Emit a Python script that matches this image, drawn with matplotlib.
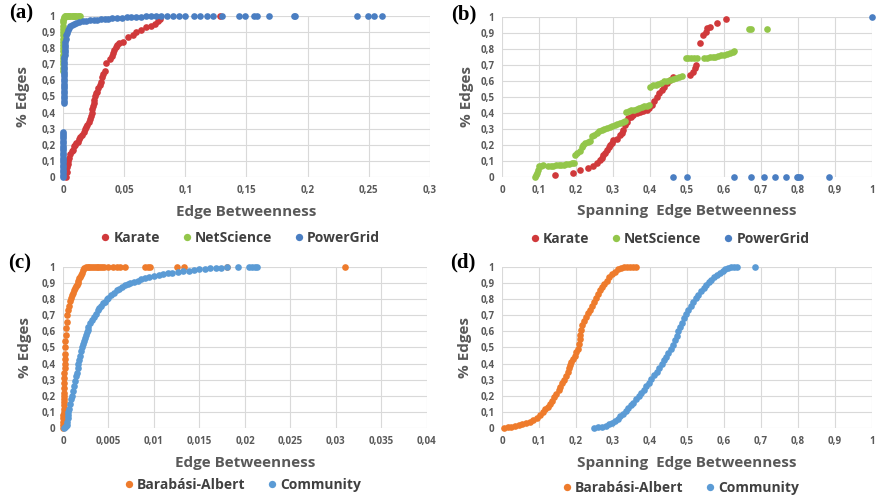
import numpy as np
import matplotlib
matplotlib.use('Agg')
import matplotlib.pyplot as plt

plt.rcParams['font.family'] = ['Open Sans', 'DejaVu Sans']

# (edge betweenness, fraction of edges) pairs for every network
karate_eb = [
    (0.0025, 0.0), (0.003, 0.03), (0.0035, 0.06), (0.004, 0.08), (0.0045, 0.10), (0.005, 0.12),
    (0.006, 0.14), (0.007, 0.16), (0.008, 0.17), (0.009, 0.19), (0.010, 0.20), (0.011, 0.21),
    (0.012, 0.22), (0.013, 0.235), (0.014, 0.25), (0.0155, 0.26), (0.017, 0.28), (0.018, 0.30),
    (0.019, 0.31), (0.020, 0.32), (0.021, 0.34), (0.022, 0.36), (0.0228, 0.38), (0.0235, 0.40),
    (0.024, 0.42), (0.0245, 0.44), (0.025, 0.46), (0.0255, 0.48), (0.026, 0.50), (0.027, 0.52),
    (0.028, 0.53), (0.029, 0.55), (0.030, 0.57), (0.031, 0.59), (0.032, 0.62), (0.033, 0.64),
    (0.034, 0.66), (0.0355, 0.71), (0.0385, 0.73), (0.040, 0.75), (0.041, 0.77), (0.042, 0.79),
    (0.043, 0.81), (0.0445, 0.82), (0.046, 0.83), (0.049, 0.84), (0.053, 0.87), (0.057, 0.88),
    (0.060, 0.90), (0.064, 0.91), (0.068, 0.93), (0.072, 0.94), (0.075, 0.95), (0.078, 0.97),
    (0.0795, 0.98), (0.128, 1.0)]

netscience_eb = [
    (0.0, 0.66), (0.0, 0.68), (0.0, 0.70), (0.0, 0.72), (0.0, 0.74), (0.0, 0.76), (0.0, 0.78),
    (0.0, 0.80), (0.0, 0.82), (0.0, 0.84), (0.0, 0.86), (0.0, 0.88), (0.0, 0.90), (0.0, 0.92),
    (0.0, 0.94), (0.0, 0.96), (0.0003, 0.975), (0.0006, 0.985), (0.001, 0.993), (0.0015, 0.998),
    (0.002, 1.0), (0.003, 1.0), (0.004, 1.0), (0.005, 1.0), (0.006, 1.0), (0.007, 1.0),
    (0.008, 1.0), (0.009, 1.0), (0.010, 1.0), (0.011, 1.0), (0.012, 1.0), (0.013, 1.0), (0.014, 1.0)]

powergrid_eb = [
    (0.0003, 0.0), (0.0003, 0.015), (0.0003, 0.03), (0.0003, 0.045), (0.0003, 0.06), (0.0003, 0.075),
    (0.0003, 0.09), (0.0003, 0.105), (0.0003, 0.12), (0.0003, 0.135), (0.0003, 0.15), (0.0003, 0.165),
    (0.0003, 0.18), (0.0003, 0.195), (0.0003, 0.21), (0.0003, 0.225), (0.0003, 0.24), (0.0003, 0.255),
    (0.0003, 0.27), (0.0003, 0.28),
    (0.0010, 0.46), (0.0010, 0.475), (0.0010, 0.49), (0.0010, 0.505), (0.0010, 0.52), (0.0010, 0.535),
    (0.0010, 0.55), (0.0010, 0.565), (0.0011, 0.58), (0.0011, 0.595), (0.0011, 0.61), (0.0011, 0.625),
    (0.0011, 0.64), (0.0011, 0.655), (0.0011, 0.67), (0.0012, 0.685), (0.0012, 0.70), (0.0012, 0.715),
    (0.0012, 0.73), (0.0012, 0.745), (0.0013, 0.76), (0.0013, 0.775), (0.0013, 0.79), (0.0014, 0.805),
    (0.0016, 0.82), (0.0019, 0.84), (0.0022, 0.86), (0.0026, 0.88), (0.0031, 0.895), (0.0038, 0.91),
    (0.0048, 0.925), (0.006, 0.935), (0.0075, 0.945), (0.009, 0.952), (0.011, 0.958), (0.013, 0.963),
    (0.016, 0.968), (0.019, 0.971), (0.022, 0.974), (0.025, 0.976), (0.028, 0.978), (0.031, 0.98),
    (0.034, 0.982), (0.037, 0.984), (0.040, 0.986), (0.044, 0.988), (0.048, 0.99), (0.052, 0.992),
    (0.056, 0.994), (0.060, 0.995), (0.064, 0.996), (0.068, 0.997), (0.072, 0.998), (0.076, 0.998),
    (0.080, 0.999), (0.085, 0.999), (0.090, 1.0), (0.095, 1.0), (0.100, 1.0), (0.107, 1.0),
    (0.112, 1.0), (0.1175, 1.0), (0.123, 1.0), (0.130, 1.0), (0.1435, 1.0), (0.149, 1.0),
    (0.156, 1.0), (0.159, 1.0), (0.168, 1.0), (0.1885, 1.0), (0.190, 1.0), (0.240, 1.0),
    (0.249, 1.0), (0.254, 1.0), (0.261, 1.0)]

# spanning edge betweenness
karate_seb = [
    (0.143, 0.0125), (0.193, 0.023), (0.211, 0.044), (0.233, 0.054), (0.247, 0.069), (0.258, 0.085),
    (0.265, 0.106), (0.270, 0.12), (0.274, 0.1375), (0.279, 0.153), (0.283, 0.169), (0.288, 0.185),
    (0.292, 0.20), (0.297, 0.215), (0.301, 0.231), (0.310, 0.24), (0.319, 0.2625), (0.324, 0.278),
    (0.328, 0.294), (0.332, 0.325), (0.337, 0.346), (0.341, 0.367), (0.348, 0.378), (0.355, 0.3875),
    (0.364, 0.398), (0.373, 0.408), (0.382, 0.414), (0.391, 0.419), (0.398, 0.434), (0.405, 0.45),
    (0.411, 0.476), (0.418, 0.502), (0.425, 0.523), (0.432, 0.544), (0.438, 0.565), (0.445, 0.585),
    (0.454, 0.606), (0.463, 0.627), (0.508, 0.6375), (0.517, 0.658), (0.521, 0.679), (0.525, 0.70),
    (0.535, 0.835), (0.544, 0.8875), (0.551, 0.908), (0.555, 0.929), (0.562, 0.94), (0.582, 0.964),
    (0.605, 0.99)]

netscience_seb = [
    (0.088, 0.0), (0.091, 0.012), (0.094, 0.024), (0.097, 0.045), (0.101, 0.066), (0.106, 0.07),
    (0.112, 0.072), (0.125, 0.07), (0.132, 0.07), (0.139, 0.071), (0.146, 0.072), (0.153, 0.073),
    (0.160, 0.075), (0.167, 0.077), (0.174, 0.079), (0.181, 0.082), (0.188, 0.085), (0.195, 0.088),
    (0.198, 0.14), (0.204, 0.15), (0.210, 0.162), (0.215, 0.185), (0.219, 0.20), (0.225, 0.21),
    (0.232, 0.218), (0.238, 0.222), (0.243, 0.255), (0.249, 0.265), (0.256, 0.278), (0.263, 0.285),
    (0.270, 0.293), (0.277, 0.30), (0.284, 0.307), (0.291, 0.314), (0.298, 0.32), (0.305, 0.326),
    (0.312, 0.332), (0.319, 0.338), (0.326, 0.345), (0.333, 0.352), (0.336, 0.405), (0.343, 0.41),
    (0.350, 0.416), (0.357, 0.421), (0.364, 0.426), (0.371, 0.431), (0.378, 0.436), (0.385, 0.441),
    (0.392, 0.446), (0.398, 0.452), (0.401, 0.565), (0.408, 0.572), (0.415, 0.578), (0.422, 0.584),
    (0.430, 0.59), (0.438, 0.597), (0.446, 0.603), (0.454, 0.609), (0.462, 0.615), (0.470, 0.621),
    (0.478, 0.627), (0.486, 0.633), (0.496, 0.742), (0.503, 0.744), (0.511, 0.745), (0.519, 0.745),
    (0.527, 0.745), (0.545, 0.745), (0.553, 0.746), (0.561, 0.748), (0.569, 0.75), (0.577, 0.753),
    (0.585, 0.757), (0.593, 0.761), (0.601, 0.765), (0.609, 0.769), (0.617, 0.774), (0.623, 0.78),
    (0.628, 0.787), (0.667, 0.923), (0.673, 0.923), (0.715, 0.928)]

powergrid_seb = [
    (0.461, 0.0), (0.501, 0.0), (0.628, 0.0), (0.674, 0.0), (0.709, 0.0), (0.739, 0.0),
    (0.767, 0.0), (0.796, 0.0), (0.801, 0.0), (0.806, 0.0), (0.884, 0.0), (1.0, 1.0)]

# synthetic networks
ba_eb = [
    (0.0, 0.0), (0.00002, 0.02), (0.00003, 0.04), (0.00004, 0.06), (0.00005, 0.08), (0.00006, 0.10),
    (0.00007, 0.12), (0.00008, 0.14), (0.00009, 0.16), (0.0001, 0.18), (0.00011, 0.20), (0.00012, 0.22),
    (0.00013, 0.25), (0.00014, 0.28), (0.00015, 0.31), (0.00016, 0.34), (0.00017, 0.37), (0.00018, 0.40),
    (0.0002, 0.43), (0.00021, 0.46), (0.00023, 0.50), (0.00026, 0.54), (0.0003, 0.58), (0.00034, 0.62),
    (0.0004, 0.66), (0.00047, 0.70), (0.00055, 0.73), (0.00065, 0.76), (0.00077, 0.79), (0.0009, 0.81),
    (0.001, 0.825), (0.0011, 0.84), (0.0012, 0.855), (0.0013, 0.87), (0.0014, 0.88), (0.0015, 0.89),
    (0.0016, 0.90), (0.0017, 0.915), (0.0018, 0.93), (0.0019, 0.94), (0.002, 0.95), (0.0021, 0.965),
    (0.0022, 0.98), (0.0023, 0.995), (0.0025, 1.0), (0.0027, 1.0), (0.0029, 1.0), (0.0031, 1.0),
    (0.0033, 1.0), (0.0035, 1.0), (0.0037, 1.0), (0.0039, 1.0), (0.0041, 1.0), (0.0043, 1.0),
    (0.0045, 1.0), (0.005, 1.0), (0.0055, 1.0), (0.0059, 1.0), (0.0063, 1.0), (0.0068, 1.0),
    (0.0090, 1.0), (0.0094, 1.0), (0.0096, 1.0), (0.0125, 1.0), (0.0133, 1.0), (0.018, 1.0),
    (0.031, 1.0)]

community_eb = [
    (0.0001, 0.0), (0.0002, 0.005), (0.0003, 0.01), (0.0004, 0.02), (0.00045, 0.04), (0.0005, 0.06),
    (0.00055, 0.08), (0.0006, 0.10), (0.0007, 0.12), (0.0008, 0.15), (0.0009, 0.18), (0.001, 0.20),
    (0.0011, 0.23), (0.0012, 0.26), (0.0013, 0.29), (0.0014, 0.32), (0.0015, 0.34), (0.0016, 0.37),
    (0.0017, 0.40), (0.0018, 0.42), (0.0019, 0.45), (0.002, 0.48), (0.0021, 0.50), (0.0022, 0.52),
    (0.0023, 0.54), (0.0024, 0.56), (0.0025, 0.58), (0.0026, 0.595), (0.0027, 0.61), (0.0028, 0.625),
    (0.003, 0.65), (0.0032, 0.67), (0.0034, 0.69), (0.0036, 0.71), (0.0038, 0.73), (0.004, 0.745),
    (0.0042, 0.76), (0.0044, 0.775), (0.0046, 0.785), (0.0048, 0.80), (0.005, 0.81), (0.0053, 0.825),
    (0.0056, 0.84), (0.0059, 0.855), (0.0062, 0.865), (0.0065, 0.875), (0.0068, 0.885), (0.0071, 0.893),
    (0.0074, 0.90), (0.0078, 0.908), (0.0082, 0.916), (0.0086, 0.923), (0.009, 0.93), (0.0095, 0.937),
    (0.01, 0.944), (0.0105, 0.95), (0.011, 0.955), (0.0115, 0.96), (0.012, 0.965), (0.0126, 0.969),
    (0.0132, 0.973), (0.0138, 0.977), (0.0144, 0.981), (0.015, 0.985), (0.0156, 0.988), (0.0162, 0.991),
    (0.0168, 0.994), (0.0174, 0.996), (0.018, 0.998), (0.0192, 1.0), (0.0204, 1.0), (0.0208, 1.0),
    (0.0211, 1.0), (0.0213, 1.0)]

ba_seb = [
    (0.005, 0.0), (0.015, 0.004), (0.025, 0.008), (0.035, 0.013), (0.045, 0.018), (0.055, 0.025),
    (0.065, 0.032), (0.075, 0.04), (0.085, 0.05), (0.095, 0.065), (0.103, 0.08), (0.110, 0.097),
    (0.117, 0.115), (0.123, 0.132), (0.129, 0.15), (0.135, 0.17), (0.141, 0.19), (0.147, 0.21),
    (0.153, 0.235), (0.158, 0.255), (0.163, 0.28), (0.168, 0.30), (0.173, 0.32), (0.178, 0.345),
    (0.181, 0.37), (0.184, 0.39), (0.187, 0.41), (0.191, 0.43), (0.196, 0.45), (0.201, 0.47),
    (0.205, 0.49), (0.208, 0.52), (0.210, 0.55), (0.212, 0.58), (0.214, 0.61), (0.217, 0.64),
    (0.221, 0.665), (0.226, 0.69), (0.232, 0.715), (0.238, 0.735), (0.243, 0.76), (0.248, 0.785),
    (0.253, 0.81), (0.259, 0.835), (0.265, 0.855), (0.271, 0.875), (0.277, 0.895), (0.283, 0.915),
    (0.290, 0.935), (0.297, 0.955), (0.305, 0.97), (0.313, 0.985), (0.321, 0.995), (0.330, 1.0),
    (0.338, 1.0), (0.346, 1.0), (0.354, 1.0), (0.362, 1.0)]

community_seb = [
    (0.250, 0.0), (0.260, 0.003), (0.270, 0.007), (0.280, 0.013), (0.290, 0.022), (0.298, 0.032),
    (0.306, 0.045), (0.313, 0.058), (0.320, 0.072), (0.327, 0.088), (0.334, 0.105), (0.341, 0.122),
    (0.348, 0.14), (0.355, 0.158), (0.362, 0.177), (0.369, 0.196), (0.376, 0.215), (0.383, 0.236),
    (0.390, 0.258), (0.397, 0.28), (0.404, 0.303), (0.411, 0.326), (0.418, 0.35), (0.425, 0.374),
    (0.432, 0.398), (0.438, 0.42), (0.444, 0.443), (0.450, 0.467), (0.456, 0.492), (0.462, 0.518),
    (0.467, 0.545), (0.472, 0.572), (0.477, 0.60), (0.482, 0.628), (0.487, 0.655), (0.492, 0.682),
    (0.498, 0.708), (0.504, 0.733), (0.510, 0.757), (0.517, 0.782), (0.524, 0.806), (0.531, 0.828),
    (0.538, 0.849), (0.545, 0.869), (0.552, 0.888), (0.559, 0.906), (0.566, 0.922), (0.573, 0.937),
    (0.580, 0.951), (0.588, 0.964), (0.596, 0.975), (0.604, 0.985), (0.612, 0.992), (0.620, 0.997),
    (0.628, 1.0), (0.636, 1.0), (0.684, 1.0)]

yticks = [0, 0.1, 0.2, 0.3, 0.4, 0.5, 0.6, 0.7, 0.8, 0.9, 1]
yticklabels = ['0', '0,1', '0,2', '0,3', '0,4', '0,5', '0,6', '0,7', '0,8', '0,9', '1']
xticks_eb_real = [0, 0.05, 0.1, 0.15, 0.2, 0.25, 0.3]
xlabels_eb_real = ['0', '0,05', '0,1', '0,15', '0,2', '0,25', '0,3']
xticks_seb = [0, 0.1, 0.2, 0.3, 0.4, 0.5, 0.6, 0.7, 0.8, 0.9, 1]
xlabels_seb = ['0', '0,1', '0,2', '0,3', '0,4', '0,5', '0,6', '0,7', '0,8', '0,9', '1']
xticks_eb_synth = [0, 0.005, 0.01, 0.015, 0.02, 0.025, 0.03, 0.035, 0.04]
xlabels_eb_synth = ['0', '0,005', '0,01', '0,015', '0,02', '0,025', '0,03', '0,035', '0,04']

RED = '#D0393B'
GREEN = '#93C64A'
BLUE = '#4A7EC2'
ORANGE = '#EE7B2C'
LBLUE = '#5B9BD5'
GRID = '#D9D9D9'
TXT = '#595959'

fig = plt.figure(figsize=(8.77, 4.98), dpi=100)


def draw_panel(rect, series, xticks, xlabels, xlabel, tag, tagpos, leg_x, leg_y, ylab_x):
    ax = fig.add_axes(rect)
    for data, color, name in series:
        pts = np.array(data)
        ax.plot(pts[:, 0], pts[:, 1], 'o', ms=4.8, mew=0, color=color,
                clip_on=False, label=name, zorder=3)
    ax.set_xlim(xticks[0], xticks[-1])
    ax.set_ylim(0, 1)
    ax.set_xticks(xticks)
    ax.set_xticklabels(xlabels)
    ax.set_yticks(yticks)
    ax.set_yticklabels(yticklabels)
    ax.tick_params(length=0, labelsize=7, labelcolor=TXT, pad=5.5)
    for lab in ax.get_xticklabels() + ax.get_yticklabels():
        lab.set_fontweight('bold')
    for s in ax.spines.values():
        s.set_visible(False)
    ax.grid(True, color=GRID, lw=0.8, zorder=0)
    ax.set_axisbelow(True)

    ax.set_xlabel(xlabel, fontsize=11, fontweight='bold', color=TXT)
    ax.xaxis.set_label_coords(0.5, -0.215)
    ax.xaxis.label.set_va('center')
    ax.set_ylabel('% Edges', fontsize=11, fontweight='bold', color=TXT)
    ax.yaxis.set_label_coords(ylab_x, 0.5)
    ax.yaxis.label.set_va('center')

    leg = ax.legend(loc='center', bbox_to_anchor=(leg_x, leg_y), ncol=len(series),
                    frameon=False, handletextpad=0.1, columnspacing=1.4,
                    markerscale=1.1, handlelength=1.0,
                    prop={'size': 10, 'weight': 'bold'})
    for t in leg.get_texts():
        t.set_color('#404040')

    fig.text(tagpos[0], tagpos[1], tag, fontsize=15, fontweight='bold',
             family='Liberation Serif', ha='center', va='center')
    return ax


draw_panel([0.0718, 0.6446, 0.4185, 0.3233],
           [(karate_eb, RED, 'Karate'), (netscience_eb, GREEN, 'NetScience'),
            (powergrid_eb, BLUE, 'PowerGrid')],
           xticks_eb_real, xlabels_eb_real, 'Edge Betweenness',
           '(a)', (0.024, 0.972), 0.48, -0.38, -0.11)

draw_panel([0.5724, 0.6446, 0.4219, 0.3213],
           [(karate_seb, RED, 'Karate'), (netscience_seb, GREEN, 'NetScience'),
            (powergrid_seb, BLUE, 'PowerGrid')],
           xticks_seb, xlabels_seb, 'Spanning  Edge Betweenness',
           '(b)', (0.529, 0.970), 0.45, -0.385, -0.095)

draw_panel([0.0718, 0.1406, 0.4150, 0.3233],
           [(ba_eb, ORANGE, 'Barabási-Albert'), (community_eb, LBLUE, 'Community')],
           xticks_eb_synth, xlabels_eb_synth, 'Edge Betweenness',
           '(c)', (0.022, 0.47), 0.49, -0.355, -0.105)

draw_panel([0.5724, 0.1406, 0.4219, 0.3233],
           [(ba_seb, ORANGE, 'Barabási-Albert'), (community_seb, LBLUE, 'Community')],
           xticks_seb, xlabels_seb, 'Spanning  Edge Betweenness',
           '(d)', (0.528, 0.472), 0.48, -0.373, -0.1)

fig.savefig('out.png', dpi=100)
